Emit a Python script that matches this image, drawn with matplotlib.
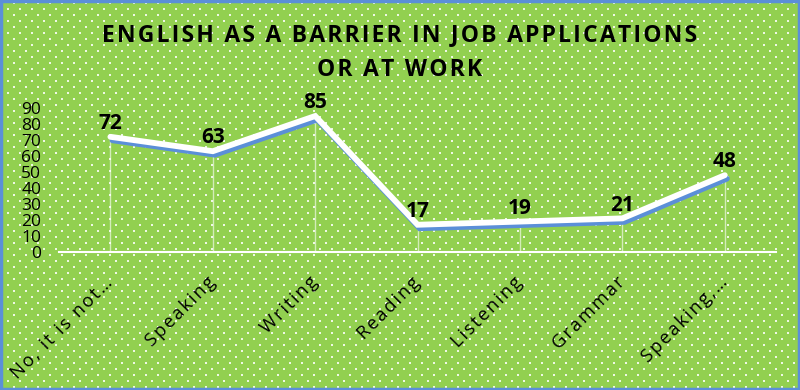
import numpy as np
import matplotlib.pyplot as plt
import matplotlib.patheffects as pe

categories = ['No, it is not…', 'Speaking', 'Writing', 'Reading', 'Listening', 'Grammar', 'Speaking,…']
values = [72, 63, 85, 17, 19, 21, 48]
yticks = [0, 10, 20, 30, 40, 50, 60, 70, 80, 90]
title1 = 'ENGLISH AS A BARRIER IN JOB APPLICATIONS'
title2 = 'OR AT WORK'

green = '#92D050'
blue = '#5B8FD8'
plt.rcParams['font.family'] = ['Open Sans', 'DejaVu Sans']


def spaced(s, gap='\u200a'):
    # mimic expanded character spacing
    return gap.join(s)


fig = plt.figure(figsize=(8, 3.9), dpi=100)
fig.patch.set_facecolor(green)

# dotted background pattern (staggered grid, figure pixels)
W, H = 800, 390
px, py = [], []
for j, yy in enumerate(np.arange(3, H, 6)):
    off = 0 if j % 2 == 0 else 6
    for xx in np.arange(2 + off, W, 12):
        px.append(xx)
        py.append(yy)
bg = fig.add_axes([0, 0, 1, 1])
bg.set_xlim(0, W)
bg.set_ylim(H, 0)
bg.axis('off')
bg.scatter(px, py, s=2.2, marker='s', c='white', linewidths=0, alpha=0.85)
bg.add_patch(plt.Rectangle((1, 1), W - 2, H - 2, fill=False, ec=blue, lw=2.5))

ax = fig.add_axes([0.074, 0.354, 0.896, 0.369])
ax.patch.set_alpha(0)
x = np.arange(len(categories))
ax.set_xlim(-0.5, len(categories) - 0.5)
ax.set_ylim(0, 90)

for s in ['top', 'right', 'left']:
    ax.spines[s].set_visible(False)
ax.spines['bottom'].set_color('white')
ax.spines['bottom'].set_linewidth(1.5)

ax.vlines(x, 0, values, colors='white', lw=1, alpha=0.6)
ax.plot(x, values, color='white', lw=4.2, solid_capstyle='round', solid_joinstyle='miter', clip_on=False,
        path_effects=[pe.SimpleLineShadow(offset=(1.5, -2.5), shadow_color=blue, alpha=1),
                      pe.Normal()])

for xi, v in zip(x, values):
    ax.annotate(str(v), (xi, v), xytext=(0, 2), textcoords='offset points',
                ha='center', va='bottom', fontsize=15, fontweight='bold', color='black')

ax.set_yticks(yticks)
ax.set_yticklabels([str(t) for t in yticks], fontsize=12.5)
ax.tick_params(axis='y', length=0, pad=13)
ax.set_xticks(x)
ax.set_xticklabels([spaced(c) for c in categories], rotation=45, ha='right', va='center',
                   rotation_mode='anchor', fontsize=13.2)
ax.tick_params(axis='x', length=0, pad=20)

fig.text(0.5, 0.91, spaced(title1), ha='center', va='center', fontsize=16.5, fontweight='bold')
fig.text(0.5, 0.82, spaced(title2), ha='center', va='center', fontsize=16.5, fontweight='bold')

fig.savefig('out.png', dpi=100, facecolor=green)
